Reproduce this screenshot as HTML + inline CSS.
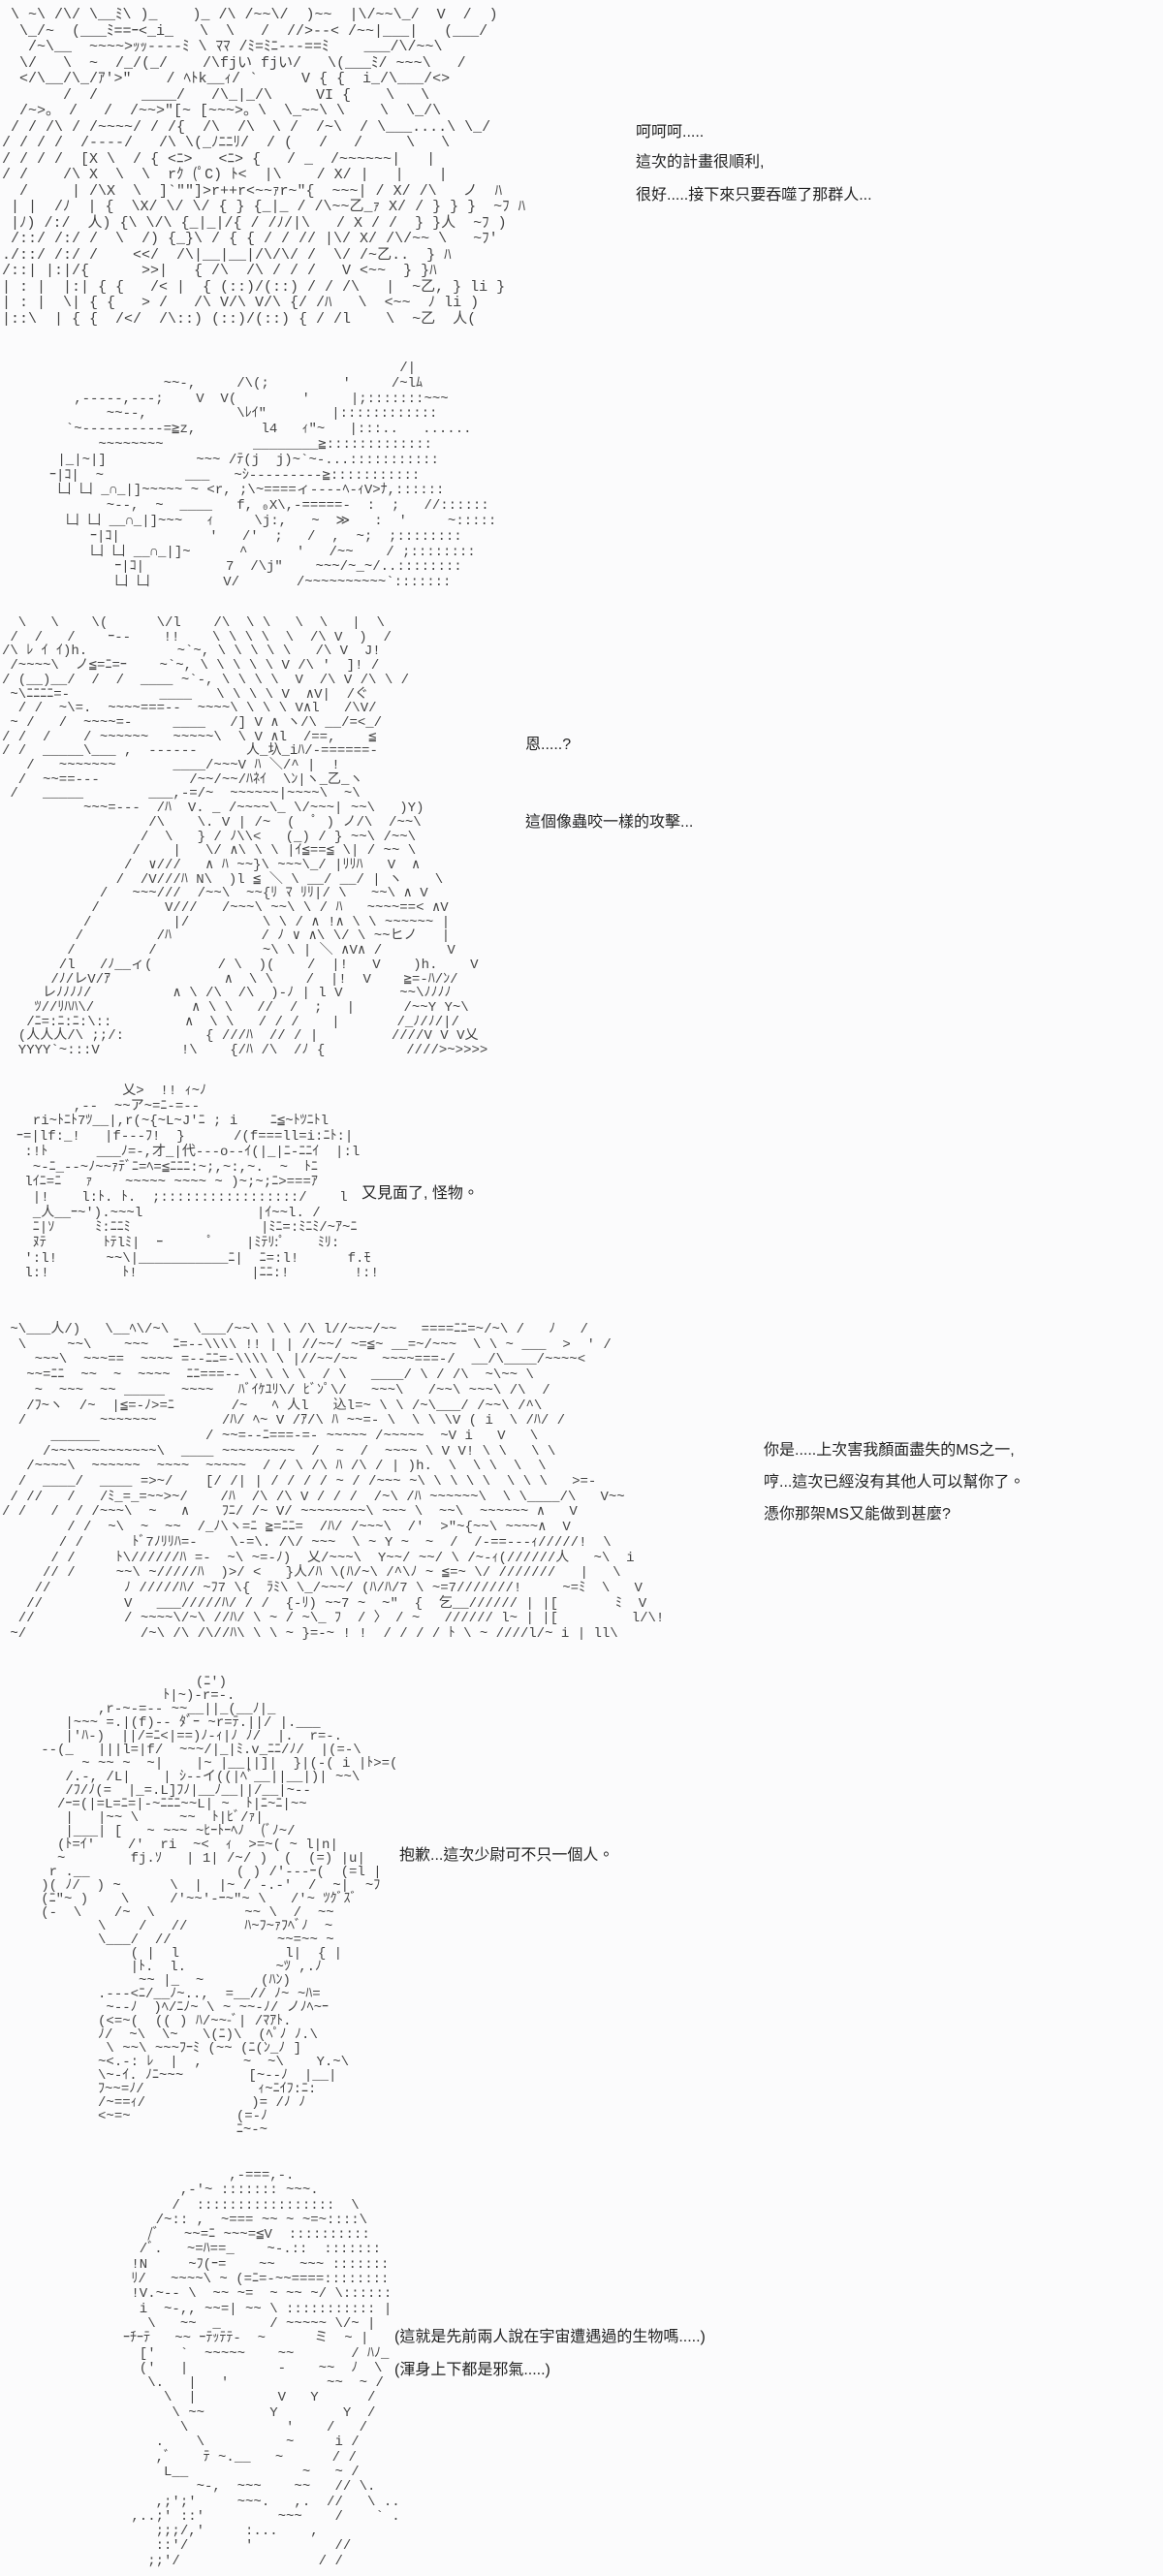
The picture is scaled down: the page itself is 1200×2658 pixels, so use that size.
<!DOCTYPE html>
<html><head><meta charset="utf-8">
<style>
html,body{margin:0;padding:0;background:#fbfbfc;}
body{width:1200px;height:2658px;position:relative;overflow:hidden;}
pre{position:absolute;margin:0;font-family:"Liberation Mono",monospace;font-size:14px;line-height:16px;color:#444;white-space:pre;}
.t{position:absolute;font-family:"Liberation Sans","Noto Sans CJK TC",sans-serif;font-size:16px;color:#222;white-space:nowrap;}
</style></head><body>

<pre style="left:2px;top:8px;line-height:16.5px;font-size:15px;">
 \ ~\ /\/ \__ﾐ\ )_    )_ /\ /~~\/  )~~  |\/~~\_/  V  /  )
  \_/~  (___ﾐ==ｰ&lt;_i_   \  \   /  //>--&lt; /~~|___|   (___/
   /~\__  ~~~~>ｯｯ----ﾐ \ ﾏﾏ /ﾐ=ﾐﾆ---==ﾐ    ___/\/~~\
  \/   \  ~  /_/(_/    /\fjい fjい/   \(___ﾐ/ ~~~\   /
  &lt;/\__/\_/ｱ'>"    / ﾍﾄk__ｨ/ `     V { {  i_/\___/&lt;>
       /  /     ____/   /\_|_/\     VI {    \   \
  /~>。 /   /  /~~>"[~ [~~~>。\  \_~~\ \    \  \_/\
 / / /\ / /~~~~/ / /{  /\  /\  \ /  /~\  / \___....\ \_/
/ / / /  /----/   /\ \(_ﾉﾆﾆﾘ/  / (   /   /     \   \
/ / / /  [X \  / { &lt;ﾆ>   &lt;ﾆ> {   / _  /~~~~~~|   |
/ /    /\ X  \  \  rｸ (ﾟC) ﾄ&lt;  |\    / X/ |   |    |
  /     | /\X  \  ]`""]>r++r&lt;~~ｧr~"{  ~~~| / X/ /\   ノ  ﾊ
 | |  /ﾉ  | {  \X/ \/ \/ { } {_|_ / /\~~乙_ｧ X/ / } } }  ~ﾌ ﾊ
 |ﾉ) /:/  人) {\ \/\ {_|_|/{ / /ﾉ/|\   / X / /  } }人  ~ﾌ )
 /::/ /:/ /  \  /) {_}\ / { { / / // |\/ X/ /\/~~ \   ~ﾌ'
./::/ /:/ /    &lt;&lt;/  /\|__|__|/\/\/ /  \/ /~乙..  } ﾊ
/::| |:|/{      >>|   { /\  /\ / / /   V &lt;~~  } }ﾊ
| : |  |:| { {   /&lt; |  { (::)/(::) / / /\   |  ~乙, } li }
| : |  \| { {   > /   /\ V/\ V/\ {/ /ﾊ   \  &lt;~~  ﾉ li )
|::\  | { {  /&lt;/  /\::) (::)/(::) { / /l    \  ~乙  人(
</pre>
<div class="t" style="left:656px;top:122px;">呵呵呵.....</div>
<div class="t" style="left:656px;top:153px;">這次的計畫很順利,</div>
<div class="t" style="left:656px;top:187px;">很好.....接下來只要吞噬了那群人...</div>

<pre style="left:51px;top:373px;line-height:15.8px;">
                                           /|
              ~~-,     /\(;         '     /~lﾑ
   ,-----,---;    V  V(        '     |;:::::::~~~
       ~~--,           \ﾚｲ"        |::::::::::::
  `~----------=≧z,        l4   ｨ"~   |:::..   ......
      ~~~~~~~~           ________≧:::::::::::::
 |_|~|]           ~~~ /ﾃ(j  j)~`~-...:::::::::::
ｰ|ｺ|  ~          ___   ~ｼ---------≧:::::::::::
 凵 凵 _∩_|]~~~~~ ~ &lt;r, ;\~====ィ----ﾍ-ｨV>ﾅ,::::::
       ~--,  ~  ____   f, ₀X\,-=====-  :  ;   //::::::
  凵 凵 __∩_|]~~~   ｨ     \j:,   ~  ≫   :  '     ~:::::
     ｰ|ｺ|           '   /'  ;   /  ,  ~;  ;::::::::
     凵 凵 __∩_|]~      ^      '   /~~    / ;::::::::
        ｰ|ｺ|          7  /\j"    ~~~/~_~/..::::::::
        凵 凵         V/       /~~~~~~~~~~`:::::::
</pre>

<pre style="left:2px;top:636px;line-height:14.7px;">
  \   \    \(      \/l    /\  \ \   \  \   |  \
 /  /   /    ｰ--    !!    \ \ \ \  \  /\ V  )  /
/\ ﾚ ｲ ｲ)h.           ~`~, \ \ \ \ \   /\ V  J!
 /~~~~\  ノ≦=ﾆ=ｰ    ~`~, \ \ \ \ \ V /\ '  ]! /
/ (__)__/  /  /  ____ ~`-, \ \ \ \  V  /\ V /\ \ /
 ~\ﾆﾆﾆﾆ=-           ____   \ \ \ \ V  ∧V|  /ぐ
  / /  ~\=.  ~~~~===--  ~~~~\ \ \ \ V∧l   /\V/
 ~ /   /  ~~~~=-     ____   /] V ∧ ヽ/\ __/=&lt;_/
/ /  /    / ~~~~~~   ~~~~~\  \ V ∧l  /==,    ≦
/ /  _____\___ ,  ------      人_圦_iﾊ/-======-
   /   ~~~~~~~       ____/~~~V ﾊ ＼/^ |  !
  /  ~~==---           /~~/~~/ﾊﾈｲ  \ﾝ|ヽ_乙_ヽ
 /   _____        ___,-=/~  ~~~~~~|~~~~\  ~\
          ~~~=---  /ﾊ  V. _ /~~~~\_ \/~~~| ~~\   )Y)
                  /\    \. V | /~  (  ﾟ ) ノ/\  /~~\
                 /  \   } / ﾉ\\&lt;   (_) / } ~~\ /~~\
                /    |   \/ ∧\ \ \ |ｲ≦==≦ \| / ~~ \
               /  ∨///   ∧ ﾊ ~~}\ ~~~\_/ |ﾘﾘﾊ   V  ∧
              /  /V///ﾊ N\  )l ≦ ＼ \ __/ __/ | ヽ    \
            /   ~~~///  /~~\  ~~{ﾘ ﾏ ﾘﾘ|/ \   ~~\ ∧ V
           /        V///   /~~~\ ~~\ \ / ﾊ   ~~~~==&lt; ∧V
          /          |/         \ \ / ∧ !∧ \ \ ~~~~~~ |
         /         /ﾊ           / ﾉ ∨ ∧\ \/ \ ~~ヒノ   |
        /         /             ~\ \ | ＼ ∧V∧ /        V
       /l   /ﾉ__ィ(        / \  )(    /  |!   V    )h.    V
      /ﾉ/レV/ｱ              ∧  \ \    /  |!  V    ≧=-ﾊ/ﾝ/
     レﾉﾉﾉﾉ/          ∧ \ /\  /\  )-ﾉ | l V       ~~\ﾉﾉﾉﾉ
    ﾂ//ﾘﾊﾊ\/            ∧ \ \   //  /  ;   |      /~~Y Y~\
   /ﾆ=:ﾆ:ﾆ:\::         ∧  \ \   / / /    |       /_ﾉ/ﾉ/|/
  (人人人/\ ;;/:          { ///ﾊ  // / |         ////V V V乂
  YYYY`~:::V          !\    {/ﾊ /\  /ﾉ {          ////>~>>>>
</pre>
<div class="t" style="left:542px;top:754px;">恩.....?</div>
<div class="t" style="left:542px;top:834px;">這個像蟲咬一樣的攻擊...</div>

<pre style="left:17px;top:1119px;line-height:15.7px;">
             乂>  !! ｨ~ﾉ
       ,--  ~~ア~=ﾆ-=--
  ri~ﾄﾆﾄ7ﾂ__|,r(~{~L~J'ﾆ ; i    ﾆ≦~ﾄﾂﾆﾄl
ｰ=|lf:_!   |f---ﾌ!  }      /(f===ll=i:ﾆﾄ:|
 :!ﾄ      ___ﾉ=-,才_|代---o--ｲ(|_|ﾆ-ﾆﾆｲ  |:l
  ~-ﾆ_--~ﾉ~~ｧﾃﾞﾆ=ﾍ=≦ﾆﾆﾆ:~;,~:,~.  ~  ﾄﾆ
 lｲﾆ=ﾆ   ｧ    ~~~~~ ~~~~ ~ )~;~;ﾆ>===ｱ
  |!    l:ﾄ. ﾄ.  ;:::::::::::::::::/    l
  _人__ｰ~').~~~l              |ｲ~~l. /
  ﾆ|ｿ     ﾐ:ﾆﾆﾐ                |ﾐﾆ=:ﾐﾆﾐ/~ｱ~ﾆ
  ﾇﾃ       ﾄﾃlﾐ|  ｰ      ﾟ    |ﾐﾃﾘ:ﾟ    ﾐﾘ:
 ':l!      ~~\|___________ﾆ|  ﾆ=:l!      f.ﾓ
 l:!         ﾄ!              |ﾆﾆ:!        !:!
</pre>
<div class="t" style="left:373px;top:1217px;">又見面了, 怪物。</div>

<pre style="left:2px;top:1365px;line-height:15.7px;">
 ~\___人/)   \__ﾍ\/~\   \___/~~\ \ \ /\ l//~~~/~~   ====ﾆﾆ=~/~\ /   ﾉ   /
  \     ~~\    ~~~   ﾆ=--\\\\ !! | | //~~/ ~=≦~ __=~/~~~  \ \ ~ ___  >  ' /
    ~~~\  ~~~==  ~~~~ =--ﾆﾆ=-\\\\ \ |//~~/~~   ~~~~===-/  __/\____/~~~~&lt;
   ~~=ﾆﾆ  ~~  ~  ~~~~  ﾆﾆ===-- \ \ \ \  / \   ____/ \ / /\  ~\~~ \
    ~  ~~~  ~~ _____  ~~~~   ﾊﾞｲｹﾕﾘ\/ ﾋﾞﾝﾟ\/   ~~~\   /~~\ ~~~\ /\  /
   /ﾌ~ヽ  /~  |≦=-ﾉ>=ﾆ       /~   ﾍ 人l   込l=~ \ \ /~\___/ /~~\ /^\
  /         ~~~~~~~        /ﾊ/ ﾍ~ V /ｱ/\ ﾊ ~~=- \  \ \ \V ( i  \ /ﾊ/ /
      ______             / ~~=--ﾆ===-=- ~~~~~ /~~~~~  ~V i   V   \
     /~~~~~~~~~~~~~\  ____ ~~~~~~~~~  /  ~  /  ~~~~ \ V V! \ \   \ \
   /~~~~\  ~~~~~~  ~~~~  ~~~~~  / / \ /\ ﾊ /\ / | )h.  \  \ \  \  \
  /  ____/  ____ =>~/    [/ /| | / / / / ~ / /~~~ ~\ \ \ \ \  \ \ \   >=-
 / //   /   /ﾐ_=_=~~>~/    /ﾊ  /\ /\ V / / /  /~\ /ﾊ ~~~~~~\  \ \____/\   V~~
/ /   /  / /~~~\  ~   ∧    ﾌﾆ/ /~ V/ ~~~~~~~~\ ~~~ \  ~~\  ~~~~~~ ∧   V
        / /  ~\  ~  ~~  /_ﾉ\ヽ=ﾆ ≧=ﾆﾆ=  /ﾊ/ /~~~\  /'  >"~{~~\ ~~~~∧  V
       / /      ﾄﾞ7ﾉﾘﾘﾊ=-    \-=\. /\/ ~~~  \ ~ Y ~  ~  /  /-==---ｨ/////!  \
      / /     ﾄ\//////ﾊ =-  ~\ ~=-ﾉ)  乂/~~~\  Y~~/ ~~/ \ /~-ｨ(//////人   ~\  i
     // /     ~~\ ~/////ﾊ  )>/ &lt;   }人/ﾊ \(ﾊ/~\ /^\ﾉ ~ ≦=~ \/ ///////   |   \
    //         ﾉ /////ﾊ/ ~ﾌ7 \{  ﾗﾐ\ \_/~~~/ (ﾊ/ﾊ/7 \ ~=7///////!     ~=ﾐ  \   V
   //          V   ___/////ﾊ/ / /  {-ﾘ) ~~7 ~  ~"  {  乞__////// | |[       ﾐ  V
  //           / ~~~~\/~\ //ﾊ/ \ ~ / ~\_ ﾌ  / 〉 / ~   ////// l~ | |[         l/\!
 ~/              /~\ /\ /\//ﾊ\ \ \ ~ }=-~ ! !  / / / / ﾄ \ ~ ////l/~ i | ll\
</pre>
<div class="t" style="left:788px;top:1482px;">你是.....上次害我顏面盡失的MS之一,</div>
<div class="t" style="left:788px;top:1515px;">哼...這次已經沒有其他人可以幫你了。</div>
<div class="t" style="left:788px;top:1548px;">憑你那架MS又能做到甚麼?</div>

<pre style="left:17px;top:1729px;line-height:14px;">
                      (ﾆ')
                  ﾄ|~)-r=-.
          ,r-~-=-- ~~__||_(__ﾉ|_
      |~~~ =.|(f)-- ﾀﾞｰ ~r=ﾃ.||/ |.___
      |'ﾊ-)  ||/=ﾆ&lt;|==)ﾉ-ｨ|ﾉ ﾉ/  |.  r=-.
   --(_   |||l=|f/  ~~~/|_|ﾐ.v_ﾆﾆ/ﾉ/  |(=-\
        ~ ~~ ~  ~|    |~ |__||]|  }|(-( i |ﾄ>=(
      /.-, /L|    | ｼ--イ((|ﾍﾞ__||__|)| ~~\
      /ﾌ/ﾉ(=  |_=.L]ﾌﾉ|__ﾉ__||/__|~--
     /ｰ=(|=L=ﾆ=|-~ﾆﾆﾆ~~L| ~  ﾄ|ﾆ~ﾆ|~~
      |   |~~ \     ~~  ﾄ|ﾋﾞ/ｧ|
      |___| [   ~ ~~~ ~ﾋｰﾄｰﾍﾉ  (ﾞﾉ~/
     (ﾄ=ｲ'    /'  ri  ~&lt;  ｨ  >=~( ~ l|n|
     ~        fj.ｿ   | 1| /~/ )  (  (=) |u|
    r .__                  ( ) /'---ｰ(  (=l |
   )( ﾉ/  ) ~      \  |  |~ / -.-'  /  ~|  ~ﾌ
   (ﾆ"~ )    \     /'~~'-ｰ~"~ \   /'~ ﾂｸﾞｽﾞ
   (-  \    /~  \           ~~ \  /  ~~
          \    /   //       ﾊ~ﾌ~ｧﾌﾍﾞﾉ  ~
          \___/  //             ~~=~~ ~
              ( |  l             l|  { |
              |ﾄ.  l.           ~ﾂ ,.ﾉ
               ~~ |_  ~       (ﾊﾝ)
          .---&lt;ﾆ/__ﾉ~..,  =__// ﾉ~ ~ﾊ=
           ~--ﾉ  )ﾍ/ﾆﾉ~ \ ~ ~~-ﾉ/ ノﾉﾍ~ｰ
          (&lt;=~(  (( ) ﾊ/~~-ﾞ| /ﾏｱﾄ.
          ﾉ/  ~\  \~   \(ﾆ)\  (ﾍﾟﾉ ﾉ.\
           \ ~~\ ~~~ﾌｰﾐ (~~ (ﾆ(ﾝ_ﾉ ]
          ~&lt;.-: ﾚ  |  ,     ~  ~\    Y.~\
          \~-ｲ. ﾉﾆ~~~        [~--ﾉ  |__|
          ﾌ~~=ﾉ/              ｨ~ﾆｲﾌ:ﾆ:
          /~==ｨ/             )= /ﾉ ﾉ
          &lt;~=~             (=-ﾉ
                           ﾆ~-~
</pre>
<div class="t" style="left:412px;top:1900px;">抱歉...這次少尉可不只一個人。</div>

<pre style="left:85px;top:2238px;line-height:15.3px;">
                  ,-===,-.
            ,-'~ ::::::: ~~~.
           /  :::::::::::::::::  \
         /~:: ,  ~=== ~~ ~ ~=~::::\
        /ﾞ   ~~=ﾆ ~~~=≦V  ::::::::::
       /ﾞ.   ~=ﾊ==_    ~-.::  :::::::
      !N     ~ﾌ(ｰ=    ~~   ~~~ :::::::
      ﾘ/   ~~~~\ ~ (=ﾆ=-~~====::::::::
      !V.~-- \  ~~ ~=  ~ ~~ ~/ \::::::
       i  ~-,, ~~=| ~~ \ ::::::::::: |
        \   ~~  _      / ~~~~~ \/~ |
     ｰﾁｰﾃ   ~~ ｰﾃｯﾃﾃ-  ~      ミ  ~ |
       ['   `  ~~~~~    ~~       / ﾊﾉ_
       ('   |           -    ~~  ﾉ  \
        \.   |   '            ~~  ~ /
          \  |          V   Y      /
           \ ~~        Y        Y  /
            \            '    /   /
         .    \          ~     i /
         ,ﾞ    ﾃ ~.__   ~      / /
          L__              ~   ~ /
              ~-,  ~~~    ~~   // \.
         ,;';'     ~~~.   ,.  //   \ ..
      ,..;' ::'         ~~~    /    ` .
         ;;;/,'     :...    ,
         ::'/       '          //
        ;;'/                 / /
</pre>
<div class="t" style="left:407px;top:2397px;">(這就是先前兩人說在宇宙遭遇過的生物嗎.....)</div>
<div class="t" style="left:407px;top:2431px;">(渾身上下都是邪氣.....)</div>

</body></html>
